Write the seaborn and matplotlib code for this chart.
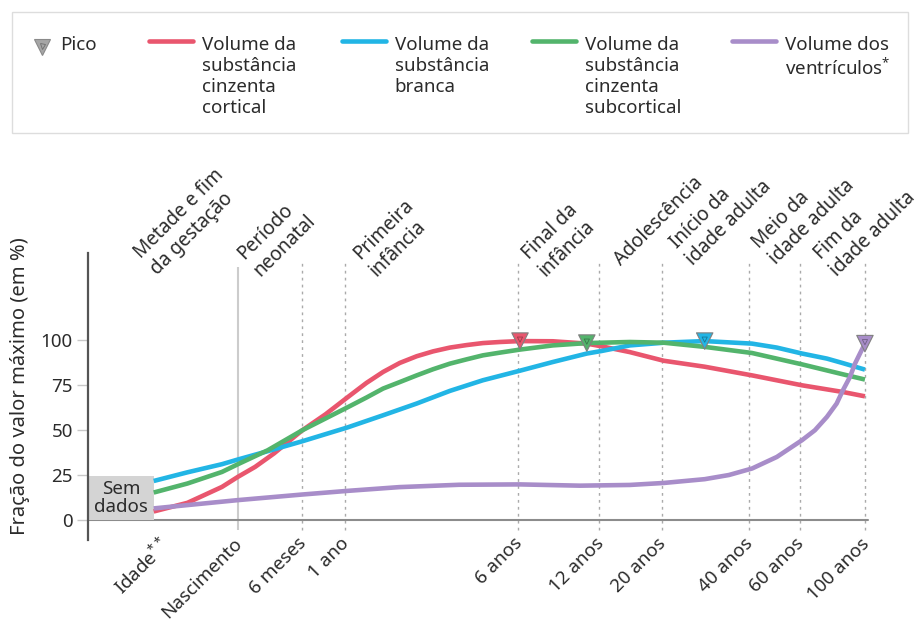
import numpy as np
import pandas as pd
import matplotlib.pyplot as plt
import seaborn as sns
from matplotlib.lines import Line2D
from matplotlib.patches import Rectangle
from matplotlib.ticker import NullLocator
from matplotlib.transforms import ScaledTranslation

# Idade em anos desde a concepcao (nascimento ~ 0.77), eixo x em escala log
cortical_age = [0.40, 0.52, 0.68, 0.77, 0.88, 1.02, 1.27, 1.52, 1.8, 2.09, 2.38, 2.71,
                3.09, 3.51, 4.0, 4.56, 5.17, 5.9, 6.9, 8.9, 11.6, 13.0, 16.2, 21.1,
                29.0, 41.9, 61.8, 84.9, 100.8]
cortical_val = [4.8, 9.6, 18.4, 24.0, 29.5, 37.0, 49.8, 58.6, 67.9, 76.0, 82.1, 87.1,
                90.8, 93.5, 95.6, 97.0, 98.1, 98.7, 99.2, 99.1, 97.8, 96.3, 93.1, 88.3,
                85.0, 80.2, 74.7, 71.0, 68.6]

white_age = [0.40, 0.52, 0.68, 0.77, 0.97, 1.27, 1.8, 2.38, 3.09, 4.0, 5.17, 6.9,
             8.9, 11.6, 13.0, 16.2, 21.1, 29.0, 41.9, 50.8, 61.8, 75.0, 84.9, 100.8]
white_val = [21.7, 26.5, 31.0, 33.6, 38.2, 43.7, 51.3, 58.1, 64.6, 71.6, 77.5, 82.8,
             87.6, 92.3, 93.7, 96.8, 98.3, 99.2, 97.8, 95.6, 92.3, 89.5, 87.0, 83.4]

subcortical_age = [0.40, 0.52, 0.68, 0.77, 0.97, 1.27, 1.8, 2.09, 2.38, 2.71, 3.09, 3.51,
                   4.0, 4.56, 5.17, 5.9, 6.9, 8.9, 11.6, 16.2, 21.1, 29.0, 41.9, 61.8,
                   84.9, 100.8]
subcortical_val = [15.3, 20.3, 26.7, 31.0, 38.7, 49.8, 62.4, 67.9, 72.9, 76.5, 80.2, 83.6,
                   86.7, 89.1, 91.3, 92.8, 94.5, 96.8, 98.1, 98.7, 98.3, 96.0, 92.6, 86.3,
                   80.8, 77.9]

ventricle_age = [0.40, 0.77, 1.27, 1.8, 2.7, 4.3, 6.9, 11.0, 16.2, 21.1, 29.0, 35.0,
                 41.9, 50.8, 61.8, 68.3, 75.0, 80.9, 84.9, 89.7, 93.3, 96.9, 100.8]
ventricle_val = [6.5, 11.1, 14.2, 16.2, 18.3, 19.6, 19.8, 19.1, 19.5, 20.6, 22.7, 25.0,
                 28.6, 35.0, 44.3, 49.8, 57.2, 64.6, 71.9, 79.3, 86.7, 92.2, 97.8]

series_names = ["cortical", "branca", "subcortical", "ventriculos"]
legend_labels = ["Volume da\nsubstância\ncinzenta\ncortical",
                 "Volume da\nsubstância\nbranca",
                 "Volume da\nsubstância\ncinzenta\nsubcortical",
                 "Volume dos\nventrículos$^{*}$"]
colors = ["#e9566e", "#22b5e5", "#53b46c", "#a88dc9"]
peak_ages = [6.9, 29.0, 11.6, 100.8]

tick_ages = [0.44, 0.77, 1.27, 1.77, 6.77, 12.77, 20.77, 40.77, 60.77, 100.77]
tick_labels = ["Idade$^{**}$", "Nascimento", "6 meses", "1 ano", "6 anos", "12 anos",
               "20 anos", "40 anos", "60 anos", "100 anos"]

period_labels = ["Metade e fim\nda gestação", "Período\nneonatal", "Primeira\ninfância",
                 "Final da\ninfância", "Adolescência", "Início da\nidade adulta",
                 "Meio da\nidade adulta", "Fim da\nidade adulta"]
period_ages = [0.424, 0.94, 2.32, 8.64, 15.5, 27.2, 51.7, 83.4]
period_y = [133.5, 133, 133, 133, 139, 139, 139.5, 133]

TXT = "#2b2b2b"
W, H = 919, 628


def fx(px):
    return px / W


def fy(py):
    return 1 - py / H


def main():
    sns.set_theme(style="white")
    plt.rcParams["font.family"] = ["Noto Sans", "DejaVu Sans"]
    plt.rcParams["mathtext.fontset"] = "custom"
    plt.rcParams["mathtext.rm"] = "Noto Sans"
    plt.rcParams["mathtext.it"] = "Noto Sans:italic"
    plt.rcParams["mathtext.bf"] = "Noto Sans:bold"
    fs = 13.5

    # 1. Long-form data
    ages = [cortical_age, white_age, subcortical_age, ventricle_age]
    vals = [cortical_val, white_val, subcortical_val, ventricle_val]
    df = pd.concat([pd.DataFrame({"age": a, "value": v, "series": n})
                    for a, v, n in zip(ages, vals, series_names)], ignore_index=True)
    peaks = pd.DataFrame({"age": peak_ages, "series": series_names})
    peaks = peaks.merge(df, on=["series", "age"], how="left")

    fig = plt.figure(figsize=(W / 100, H / 100), dpi=100)
    ax = fig.add_axes([fx(88), fy(540), (875 - 88) / W, (540 - 253) / H])

    ax.set_xscale("log")
    ax.set_xlim(0.24, 109)
    ax.set_ylim(-11, 148)

    # 2. Guide lines for the age marks
    for i, a in enumerate(tick_ages[1:]):
        if i == 0:
            ax.vlines(a, -5.5, 140, color="#cccccc", lw=1.5, zorder=1)
        else:
            ax.vlines(a, -5.5, 142.8, color="#aaaaaa", lw=1, linestyles=(0, (2, 3)), zorder=1)
    ax.axhline(0, xmin=0, xmax=(868 - 88) / (875 - 88), color="#8c8c8c", lw=1.5, zorder=1)

    # "Sem dados" box
    ax.add_patch(Rectangle((0.24, 0), 0.40 - 0.24, 24.3, facecolor="#d4d4d4",
                           edgecolor="none", zorder=2))
    ax.text(0.31, 12.2, "Sem\ndados", ha="center", va="center", fontsize=fs,
            color=TXT, linespacing=1.0, zorder=3)

    # 3. Curves and peaks
    sns.lineplot(data=df, x="age", y="value", hue="series", hue_order=series_names,
                 palette=colors, lw=3.3, estimator=None, legend=False, ax=ax, zorder=3,
                 solid_capstyle="butt")
    sns.scatterplot(data=peaks, x="age", y="value", hue="series", hue_order=series_names,
                    palette=colors, marker="v", s=140, edgecolor="#808080", linewidth=0.8,
                    legend=False, ax=ax, zorder=5)
    ax.scatter(peaks["age"], peaks["value"] + 0.8, marker="v", s=14, facecolors="none",
               edgecolors="#00000055", linewidths=0.6, zorder=6)

    # 4. Axes styling
    for s in ["top", "right", "bottom"]:
        ax.spines[s].set_visible(False)
    ax.spines["left"].set_color("#555555")
    ax.spines["left"].set_linewidth(1.6)
    ax.set_yticks([0, 25, 50, 75, 100])
    ax.tick_params(axis="y", length=8, width=1, color="#c8c8c8", labelsize=fs,
                   labelcolor=TXT, pad=3, left=True)
    ax.set_xticks(tick_ages, tick_labels)
    ax.xaxis.set_minor_locator(NullLocator())
    ax.tick_params(axis="x", length=0, labelsize=fs, labelcolor=TXT, pad=-4, labelrotation=45)
    shift = ScaledTranslation(8 / 100, 0, fig.dpi_scale_trans)
    for lab in ax.get_xticklabels():
        lab.set_ha("right")
        lab.set_transform(lab.get_transform() + shift)
    ax.set_xlabel("")
    ax.set_ylabel("Fração do valor máximo (em %)", fontsize=14.5, color=TXT)
    ax.yaxis.set_label_coords((30 - 88) / 787, (540 - 386) / 287)

    for lab, a, y in zip(period_labels, period_ages, period_y):
        ax.text(a, y, lab, rotation=45, rotation_mode="anchor", ha="left", va="bottom",
                fontsize=13.7, color=TXT, linespacing=1.2)

    # 5. Legend drawn in figure coords
    fig.patches.append(Rectangle((fx(12), fy(133)), (908 - 12) / W, (133 - 12) / H,
                                 transform=fig.transFigure, fill=False,
                                 edgecolor="#dddddd", lw=1))
    fig.lines.append(Line2D([fx(41.7)], [fy(47)], marker="v", markersize=11,
                            markerfacecolor="#a6a6a6", markeredgecolor="#8a8a8a",
                            markeredgewidth=0.8, transform=fig.transFigure))
    fig.lines.append(Line2D([fx(41.7)], [fy(46)], marker="v", markersize=3.6,
                            markerfacecolor="none", markeredgecolor="#00000055",
                            markeredgewidth=0.6, transform=fig.transFigure))
    fig.text(fx(60), fy(36), "Pico", ha="left", va="top", fontsize=fs, color=TXT)
    line_x = [149, 341.7, 531.7, 731.7]
    for x0, c, lab in zip(line_x, colors, legend_labels):
        fig.lines.append(Line2D([fx(x0), fx(x0 + 44)], [fy(40.7), fy(40.7)], color=c,
                                lw=3.3, transform=fig.transFigure))
        fig.text(fx(x0 + 53), fy(36), lab, ha="left", va="top", fontsize=fs,
                 color=TXT, linespacing=1.22)

    fig.savefig("out.png", dpi=100)


if __name__ == "__main__":
    main()
